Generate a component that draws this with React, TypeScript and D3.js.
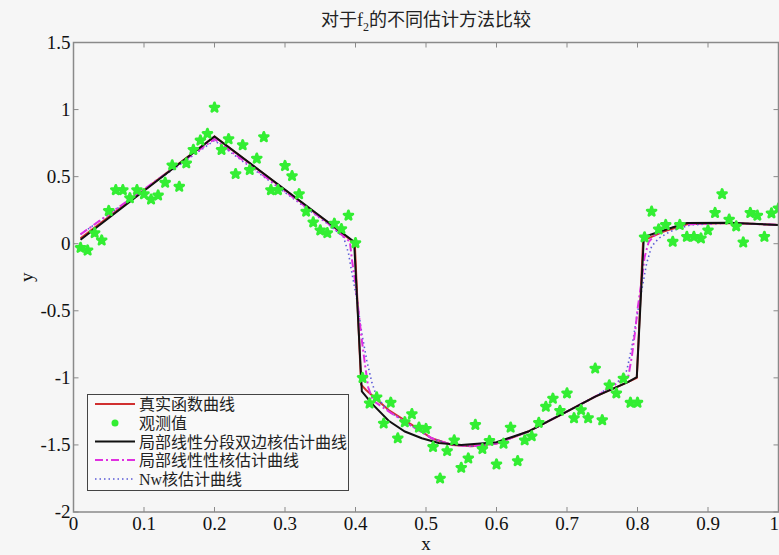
import React, { useEffect, useRef } from "react";
import * as d3 from "d3";

// observed points (x = 0.01 .. 1.00)
const obsX = [
  0.01, 0.02, 0.03, 0.04, 0.05, 0.06, 0.07, 0.08, 0.09, 0.1,
  0.11, 0.12, 0.13, 0.14, 0.15, 0.16, 0.17, 0.18, 0.19, 0.2,
  0.21, 0.22, 0.23, 0.24, 0.25, 0.26, 0.27, 0.28, 0.29, 0.3,
  0.31, 0.32, 0.33, 0.34, 0.35, 0.36, 0.37, 0.38, 0.39, 0.4,
  0.41, 0.42, 0.43, 0.44, 0.45, 0.46, 0.47, 0.48, 0.49, 0.5,
  0.51, 0.52, 0.53, 0.54, 0.55, 0.56, 0.57, 0.58, 0.59, 0.6,
  0.61, 0.62, 0.63, 0.64, 0.65, 0.66, 0.67, 0.68, 0.69, 0.7,
  0.71, 0.72, 0.73, 0.74, 0.75, 0.76, 0.77, 0.78, 0.79, 0.8,
  0.81, 0.82, 0.83, 0.84, 0.85, 0.86, 0.87, 0.88, 0.89, 0.9,
  0.91, 0.92, 0.93, 0.94, 0.95, 0.96, 0.97, 0.98, 0.99, 1.0,
];
const obsY = [
  -0.03, -0.05, 0.08, 0.025, 0.245, 0.4, 0.4, 0.34, 0.4, 0.37,
  0.33, 0.36, 0.455, 0.585, 0.425, 0.6, 0.7, 0.77, 0.82, 1.015,
  0.7, 0.78, 0.52, 0.735, 0.55, 0.635, 0.795, 0.4, 0.4, 0.58,
  0.505, 0.37, 0.24, 0.16, 0.1, 0.08, 0.15, 0.11, 0.21, 0.005,
  -1.0, -1.19, -1.145, -1.34, -1.185, -1.45, -1.33, -1.27, -1.37, -1.38,
  -1.515, -1.75, -1.545, -1.465, -1.67, -1.6, -1.35, -1.53, -1.47, -1.645,
  -1.49, -1.37, -1.62, -1.465, -1.435, -1.335, -1.215, -1.155, -1.245, -1.115,
  -1.3, -1.24, -1.3, -0.93, -1.315, -1.055, -1.115, -1.005, -1.185, -1.185,
  0.048, 0.24, 0.107, 0.14, 0.015, 0.14, 0.052, 0.052, 0.04, 0.1,
  0.23, 0.37, 0.18, 0.13, 0.01, 0.23, 0.21, 0.052, 0.227, 0.264,
];

// true function
const trueX = [0.01, 0.2, 0.399, 0.408, 0.415, 0.447, 0.48, 0.508, 0.537, 0.565, 0.6, 0.645, 0.693, 0.74, 0.787, 0.799, 0.808, 0.815, 0.837, 0.87, 0.93, 1.0];
const trueY = [0.04, 0.8, 0.005, -1.05, -1.09, -1.24, -1.35, -1.45, -1.5, -1.51, -1.49, -1.4, -1.27, -1.14, -1.03, -1.0, 0.03, 0.04, 0.09, 0.145, 0.155, 0.14];

// local linear piecewise two-sided kernel
const pieceX = [0.01, 0.2, 0.398, 0.409, 0.423, 0.447, 0.47, 0.494, 0.518, 0.55, 0.6, 0.645, 0.693, 0.74, 0.787, 0.799, 0.809, 0.837, 0.87, 0.93, 1.0];
const pieceY = [0.03, 0.8, 0.015, -1.1, -1.19, -1.32, -1.4, -1.45, -1.485, -1.5, -1.48, -1.4, -1.27, -1.14, -1.03, -0.995, 0.05, 0.1, 0.155, 0.157, 0.14];

// local linear kernel
const llX = [0.01, 0.2, 0.364, 0.392, 0.395, 0.4, 0.404, 0.409, 0.414, 0.418, 0.425, 0.447, 0.48, 0.508, 0.537, 0.565, 0.6, 0.645, 0.693, 0.74, 0.787, 0.792, 0.797, 0.8, 0.806, 0.81, 0.816, 0.825, 0.842, 0.87, 0.93, 1.0];
const llY = [0.07, 0.78, 0.14, 0.015, -0.12, -0.3, -0.49, -0.72, -0.92, -1.07, -1.17, -1.25, -1.36, -1.45, -1.5, -1.51, -1.49, -1.4, -1.27, -1.14, -0.99, -0.84, -0.64, -0.49, -0.27, -0.1, 0.015, 0.065, 0.115, 0.145, 0.155, 0.14];

// Nadaraya-Watson kernel
const nwX = [0.01, 0.2, 0.36, 0.383, 0.39, 0.395, 0.402, 0.409, 0.416, 0.423, 0.43, 0.447, 0.48, 0.508, 0.537, 0.565, 0.6, 0.645, 0.693, 0.74, 0.78, 0.785, 0.792, 0.799, 0.806, 0.813, 0.82, 0.83, 0.846, 0.875, 0.93, 1.0];
const nwY = [0.07, 0.77, 0.15, 0.05, -0.07, -0.22, -0.42, -0.67, -0.87, -1.03, -1.14, -1.25, -1.36, -1.45, -1.5, -1.51, -1.49, -1.4, -1.27, -1.14, -1.0, -0.94, -0.77, -0.545, -0.345, -0.146, -0.02, 0.04, 0.09, 0.14, 0.155, 0.14];

const xTicks = [0, 0.1, 0.2, 0.3, 0.4, 0.5, 0.6, 0.7, 0.8, 0.9, 1];
const yTicks = [-2, -1.5, -1, -0.5, 0, 0.5, 1, 1.5];

const legendLabels = ["真实函数曲线", "观测值", "局部线性分段双边核估计曲线", "局部线性性核估计曲线", "Nw核估计曲线"];

const serif = "'Liberation Serif', 'Times New Roman', Times, 'DejaVu Serif', 'Noto Sans CJK SC', serif";

const App = () => {
  const ref = useRef<SVGSVGElement>(null);

  useEffect(() => {
    const svg = d3.select(ref.current);
    svg.selectAll("*").remove();
    const width = 779;
    const height = 555;
    const left = 73.5, right = 778.5, top = 42.5, bottom = 512;

    svg.append("rect").attr("width", width).attr("height", height).attr("fill", "#f6f6f6");

    const x = d3.scaleLinear().domain([0, 1]).range([left, right]);
    const y = d3.scaleLinear().domain([-2, 1.5]).range([bottom, top]);

    svg.append("defs").append("clipPath").attr("id", "plotclip")
      .append("rect").attr("x", left).attr("y", top).attr("width", right - left + 2).attr("height", bottom - top);

    const plot = svg.append("g").attr("clip-path", "url(#plotclip)");

    const line = d3.line<[number, number]>().x((d) => x(d[0])).y((d) => y(d[1]));
    const zip = (xs: number[], ys: number[]) => xs.map((v, i) => [v, ys[i]] as [number, number]);

    // curves
    plot.append("path").attr("d", line(zip(trueX, trueY))).attr("fill", "none")
      .attr("stroke", "#d03030").attr("stroke-width", 2);
    plot.append("path").attr("d", line(zip(nwX, nwY))).attr("fill", "none")
      .attr("stroke", "#5a5ad8").attr("stroke-width", 1.6).attr("stroke-dasharray", "1.5,3");
    plot.append("path").attr("d", line(zip(llX, llY))).attr("fill", "none")
      .attr("stroke", "#e030e0").attr("stroke-width", 2).attr("stroke-dasharray", "8,3,2,3");
    plot.append("path").attr("d", line(zip(pieceX, pieceY))).attr("fill", "none")
      .attr("stroke", "#111").attr("stroke-width", 2);

    // observed points
    const star = d3.symbol().type(d3.symbolStar).size(24);
    plot.selectAll(".obs")
      .data(zip(obsX, obsY))
      .join("path")
      .attr("class", "obs")
      .attr("d", star)
      .attr("transform", (d) => `translate(${x(d[0])},${y(d[1])})`)
      .attr("fill", "#33ee33")
      .attr("stroke", "#33ee33")
      .attr("stroke-width", 2.8)
      .attr("stroke-linejoin", "round");

    // axes box
    const axisColor = "#8a8a8a";
    svg.append("rect").attr("x", left).attr("y", top).attr("width", right - left).attr("height", bottom - top)
      .attr("fill", "none").attr("stroke", axisColor).attr("stroke-width", 1.5);

    const tk = 5;
    xTicks.forEach((t) => {
      svg.append("line").attr("x1", x(t)).attr("x2", x(t)).attr("y1", bottom).attr("y2", bottom - tk).attr("stroke", axisColor);
      svg.append("line").attr("x1", x(t)).attr("x2", x(t)).attr("y1", top).attr("y2", top + tk).attr("stroke", axisColor);
      svg.append("text").attr("x", t === 1 ? 779 : x(t)).attr("y", 530).attr("text-anchor", t === 1 ? "end" : "middle")
        .style("font-family", serif).style("font-size", "19px").attr("fill", "#111").text(String(t));
    });
    yTicks.forEach((t) => {
      svg.append("line").attr("x1", left).attr("x2", left + tk).attr("y1", y(t)).attr("y2", y(t)).attr("stroke", axisColor);
      svg.append("line").attr("x1", right).attr("x2", right - tk).attr("y1", y(t)).attr("y2", y(t)).attr("stroke", axisColor);
      svg.append("text").attr("x", left - 3).attr("y", y(t) + 6).attr("text-anchor", "end")
        .style("font-family", serif).style("font-size", "19px").attr("fill", "#111").text(String(t));
    });

    // axis labels
    svg.append("text").attr("x", (left + right) / 2).attr("y", 550).attr("text-anchor", "middle")
      .style("font-family", serif).style("font-size", "19px").attr("fill", "#111").text("x");
    svg.append("text").attr("transform", `translate(33,${(top + bottom) / 2}) rotate(-90)`).attr("text-anchor", "middle")
      .style("font-family", serif).style("font-size", "19px").attr("fill", "#111").text("y");

    // title
    const title = svg.append("text").attr("x", (left + right) / 2).attr("y", 26).attr("text-anchor", "middle")
      .style("font-family", serif).style("font-size", "18px").attr("fill", "#222");
    title.append("tspan").text("对于f");
    title.append("tspan").attr("dy", 5).style("font-size", "12px").text("2");
    title.append("tspan").attr("dy", -5).text("的不同估计方法比较");

    // legend
    const lg = svg.append("g");
    lg.append("rect").attr("x", 87.5).attr("y", 394.5).attr("width", 261).attr("height", 96)
      .attr("fill", "#f9f9f9").attr("stroke", "#444").attr("stroke-width", 1);
    const rowY = [404, 423, 441.5, 460, 479];
    const ls = 95, le = 135;
    lg.append("line").attr("x1", ls).attr("x2", le).attr("y1", rowY[0]).attr("y2", rowY[0]).attr("stroke", "#d03030").attr("stroke-width", 2);
    lg.append("circle").attr("cx", (ls + le) / 2).attr("cy", rowY[1]).attr("r", 3.5).attr("fill", "#33ee33");
    lg.append("line").attr("x1", ls).attr("x2", le).attr("y1", rowY[2]).attr("y2", rowY[2]).attr("stroke", "#111").attr("stroke-width", 2);
    lg.append("line").attr("x1", ls).attr("x2", le).attr("y1", rowY[3]).attr("y2", rowY[3]).attr("stroke", "#e030e0")
      .attr("stroke-width", 2).attr("stroke-dasharray", "8,3,2,3");
    lg.append("line").attr("x1", ls).attr("x2", le).attr("y1", rowY[4]).attr("y2", rowY[4]).attr("stroke", "#5a5ad8")
      .attr("stroke-width", 1.6).attr("stroke-dasharray", "1.5,3");
    legendLabels.forEach((l, i) => {
      lg.append("text").attr("x", 139).attr("y", rowY[i] + 6).style("font-family", serif)
        .style("font-size", "16px").attr("fill", "#222").text(l);
    });
  }, []);

  return <svg ref={ref} width={779} height={555} style={{ display: "block", position: "absolute", left: 0, top: 0 }}></svg>;
};

export default App;
